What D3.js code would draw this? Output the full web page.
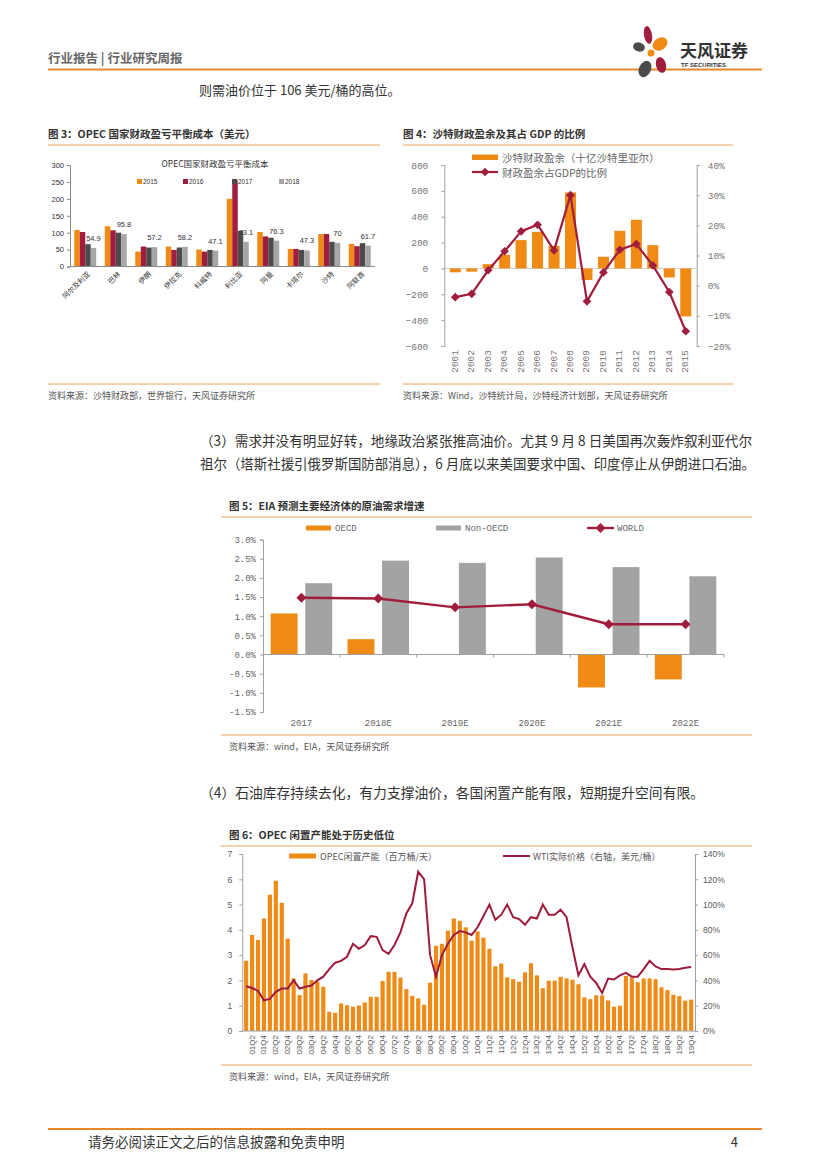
<!DOCTYPE html>
<html><head><meta charset="utf-8">
<script src="https://cdn.jsdelivr.net/npm/d3@7"></script>
<style>body{margin:0;background:#fff}svg{display:block}</style>
</head><body>
<svg id="page" width="827" height="1169"></svg>
<script>
// ---------- Chart 3 data ----------
const c3Cats = ["阿尔及利亚","巴林","伊朗","伊拉克","科威特","利比亚","阿曼","卡塔尔","沙特","阿联酋"];
const c3Years = ["2015","2016","2017","2018"];
const c3v2015 = [108,119,44,59,50,200,102,52,96,67];
const c3v2016 = [102,107,59,49,44,255,89,52,96,60];
const c3v2017 = [66,100,56,56,49,105,85,49,73,69];
const c3v2018 = [54.9,95.8,57.2,58.2,47.1,73.1,76.3,47.3,70,61.7];
const c3Ticks = [0,50,100,150,200,250,300];

// ---------- Chart 4 data ----------
const c4Years = ["2001","2002","2003","2004","2005","2006","2007","2008","2009","2010","2011","2012","2013","2014","2015"];
const c4Surplus = [-30,-25,33,105,219,283,175,588,-90,90,291,376,180,-70,-371];
const c4Ratio = [-3.8,-2.7,5.1,11.4,18.0,20.2,11.7,30.0,-5.2,4.4,11.9,13.8,6.7,-2.1,-15.1];
const c4LeftTicks = [-600,-400,-200,0,200,400,600,800];
const c4RightTicks = [-20,-10,0,10,20,30,40];

// ---------- Chart 5 data ----------
const c5Cats = ["2017","2018E","2019E","2020E","2021E","2022E"];
const c5OECD = [1.07,0.40,0,0,-0.86,-0.65];
const c5NonOECD = [1.86,2.45,2.39,2.53,2.28,2.04];
const c5World = [1.48,1.46,1.23,1.31,0.79,0.79];
const c5Ticks = [-1.5,-1.0,-0.5,0,0.5,1.0,1.5,2.0,2.5,3.0];

// ---------- Chart 6 data ----------
const c6Quarters = ["01Q1","01Q2","01Q3","01Q4","02Q1","02Q2","02Q3","02Q4","03Q1","03Q2","03Q3","03Q4","04Q1","04Q2","04Q3","04Q4","05Q1","05Q2","05Q3","05Q4","06Q1","06Q2","06Q3","06Q4","07Q1","07Q2","07Q3","07Q4","08Q1","08Q2","08Q3","08Q4","09Q1","09Q2","09Q3","09Q4","10Q1","10Q2","10Q3","10Q4","11Q1","11Q2","11Q3","11Q4","12Q1","12Q2","12Q3","12Q4","13Q1","13Q2","13Q3","13Q4","14Q1","14Q2","14Q3","14Q4","15Q1","15Q2","15Q3","15Q4","16Q1","16Q2","16Q3","16Q4","17Q1","17Q2","17Q3","17Q4","18Q1","18Q2","18Q3","18Q4","19Q1","19Q2","19Q3","19Q4"];
const c6Spare = [2.78,3.80,3.60,4.45, 5.39,5.94,5.07,3.65, 2.08,1.42,2.28,2.02, 1.95,1.75,0.76,0.72, 1.09,1.02,0.96,1.01, 1.13,1.35,1.35,1.98, 2.34,2.34,2.11,1.66, 1.39,1.29,1.04,1.91, 3.37,3.45,3.97,4.45, 4.36,4.10,3.57,3.94, 3.69,3.25,2.56,2.67, 2.12,2.05,1.95,2.32, 2.68,2.20,1.69,1.99, 1.99,2.14,2.08,2.03, 1.85,1.33,1.26,1.41, 1.41,1.21,0.96,1.00, 2.18,2.11,1.93,2.08, 2.08,2.05,1.73,1.62, 1.43,1.38,1.20,1.24];
const c6WTI = [35.4,34,31.7,24.3, 25.4,31,33.6,33.6, 40.2,33.6,35,36, 40,43,49,54, 55.5,58.7,69,65, 68,75,74.5,64, 61,68,78,93, 101,126,120,60, 43,60,69,76, 79,78,76,82, 91,100,88,92, 100,90,88.5,84, 90,89,100,92, 92,96,90,66, 44,53,43,38, 30,41.5,40.7,44, 46,43,43,49, 55.5,51,49,49, 48.6,49,50,50.7];
const c6LeftTicks = [0,1,2,3,4,5,6,7];
const c6RightTicks = [0,20,40,60,80,100,120,140];

// ---------- styles ----------
const CJK = "'Noto Sans CJK SC','Noto Sans',sans-serif";
const MONO = "'Liberation Mono','DejaVu Sans Mono',monospace";
const SANS = "'Liberation Sans','Noto Sans CJK SC',sans-serif";
const OR = "#EF8A14", RED = "#A11D3D", DG = "#4B4B4B", LG = "#A6A6A6";
const RULE = "#E9A05A", AX = "#A0A0A0", TXT = "#595959";

const svg = d3.select("#page");
svg.append("rect").attr("width",827).attr("height",1169).attr("fill","#fff");

function txt(g,x,y,s,o={}){
  const t = g.append("text").attr("x",x).attr("y",y).text(s)
    .attr("font-family",o.ff||CJK).attr("font-size",o.fs||12)
    .attr("fill",o.fill||"#333").attr("dominant-baseline",o.db||"central")
    .attr("text-anchor",o.anchor||"start");
  if(o.fw) t.attr("font-weight",o.fw);
  if(o.len) t.attr("textLength",o.len).attr("lengthAdjust","spacingAndGlyphs");
  return t;
}
function hline(x1,x2,y,c,w){svg.append("line").attr("x1",x1).attr("x2",x2).attr("y1",y).attr("y2",y).attr("stroke",c).attr("stroke-width",w);}

// ---------- page header ----------
txt(svg,48,57,"行业报告 | 行业研究周报",{fs:12.5,fw:700,fill:"#666"});
hline(48,762,69.5,"#E8872A",2);
const logo = svg.append("g");
[[648,35,4,9,-10,"#A11D3D"],[660,44,8,6,-35,OR],[639,47,6,4.5,15,"#4B4B4B"],[651,53,3.5,3.5,0,OR],[661,65,5,8,-15,"#A11D3D"],[645,69,6,8.5,25,"#4B4B4B"]].forEach(p=>{
  logo.append("ellipse").attr("cx",p[0]).attr("cy",p[1]).attr("rx",p[2]).attr("ry",p[3])
   .attr("transform",`rotate(${p[4]},${p[0]},${p[1]})`).attr("fill",p[5]);
});
txt(svg,680,49,"天风证券",{fs:17,fw:700,fill:"#333"});
txt(svg,681,65,"TF SECURITIES",{fs:6,fw:700,fill:"#333",ff:SANS});

txt(svg,199,89,"则需油价位于 106 美元/桶的高位。",{fs:13,fill:"#333"});

// ---------- figure titles & rules ----------
txt(svg,48,133,"图 3：OPEC 国家财政盈亏平衡成本（美元）",{fs:10.5,fw:700,fill:"#333"});
hline(48,380,145,RULE,1);
txt(svg,403,133,"图 4：沙特财政盈余及其占 GDP 的比例",{fs:10.5,fw:700,fill:"#333"});
hline(403,733,145,RULE,1);
hline(48,380,384,RULE,1);
hline(403,733,384,RULE,1);
txt(svg,48,395,"资料来源：沙特财政部，世界银行，天风证券研究所",{fs:9,fill:"#555"});
txt(svg,403,395,"资料来源：Wind，沙特统计局，沙特经济计划部，天风证券研究所",{fs:9,fill:"#555"});

txt(svg,200,440,"（3）需求并没有明显好转，地缘政治紧张推高油价。尤其 9 月 8 日美国再次轰炸叙利亚代尔",{fs:14,fill:"#333",len:552});
txt(svg,200,463,"祖尔（塔斯社援引俄罗斯国防部消息），6 月底以来美国要求中国、印度停止从伊朗进口石油。",{fs:14,fill:"#333",len:555});

txt(svg,229,505,"图 5：EIA 预测主要经济体的原油需求增速",{fs:10.5,fw:700,fill:"#333"});
hline(221,752,517,RULE,1);
hline(221,752,735,RULE,1);
txt(svg,229,746,"资料来源：wind，EIA，天风证券研究所",{fs:9,fill:"#555"});

txt(svg,200,792,"（4）石油库存持续去化，有力支撑油价，各国闲置产能有限，短期提升空间有限。",{fs:14,fill:"#333",len:504});

txt(svg,229,834,"图 6：OPEC 闲置产能处于历史低位",{fs:10.5,fw:700,fill:"#333"});
hline(221,752,846,RULE,1);
hline(221,752,1065,RULE,1);
txt(svg,229,1076,"资料来源：wind，EIA，天风证券研究所",{fs:9,fill:"#555"});

hline(48,762,1129,"#E8872A",2);
txt(svg,88,1141,"请务必阅读正文之后的信息披露和免责申明",{fs:13.5,fill:"#333"});
txt(svg,738,1141,"4",{fs:13,fill:"#333",anchor:"end"});

// ---------- Chart 3 ----------
(function(){
  const g = svg.append("g");
  const x = d3.scaleBand().domain(c3Cats).range([70,375]).paddingInner(0.28).paddingOuter(0.14);
  const xs = d3.scaleBand().domain(c3Years).range([0,x.bandwidth()]);
  const y = d3.scaleLinear().domain([0,300]).range([266.5,165]);
  const series = [c3v2015,c3v2016,c3v2017,c3v2018];
  const cols = [OR,RED,DG,LG];
  txt(g,215,163,"OPEC国家财政盈亏平衡成本",{fs:8.5,fill:"#333",anchor:"middle"});
  series.forEach((s,k)=>{
    g.selectAll(null).data(s).enter().append("rect")
      .attr("x",(d,i)=>x(c3Cats[i])+xs(c3Years[k])).attr("width",xs.bandwidth())
      .attr("y",d=>y(d)).attr("height",d=>y(0)-y(d)).attr("fill",cols[k]);
  });
  g.selectAll(null).data(c3v2018).enter().append("text")
    .attr("x",(d,i)=>x(c3Cats[i])+xs("2018")+xs.bandwidth()/2)
    .attr("y",d=>y(d)-7).attr("text-anchor","middle")
    .attr("font-family",SANS).attr("font-size",7.5).attr("fill","#333")
    .text(d=>d);
  const ya = g.append("g").attr("transform","translate(70,0)")
    .call(d3.axisLeft(y).tickValues(c3Ticks).tickSize(3).tickPadding(3));
  ya.select(".domain").attr("stroke","#888");
  ya.selectAll(".tick line").attr("stroke","#888");
  ya.selectAll("text").attr("font-family",SANS).attr("font-size",7.5).attr("fill","#333");
  g.append("line").attr("x1",70).attr("x2",375).attr("y1",y(0)).attr("y2",y(0)).attr("stroke","#888");
  g.selectAll(null).data(c3Cats).enter().append("text")
    .attr("transform",d=>`translate(${x(d)+x.bandwidth()/2+3},${y(0)+6}) rotate(-45)`)
    .attr("text-anchor","end").attr("dominant-baseline","central")
    .attr("font-family",CJK).attr("font-size",7).attr("fill","#333").text(d=>d);
  const lx = [137,183,232,279];
  c3Years.forEach((yy,k)=>{
    g.append("rect").attr("x",lx[k]).attr("y",179).attr("width",5).attr("height",5).attr("fill",cols[k]);
    txt(g,lx[k]+6,181.5,yy,{fs:6.5,ff:SANS,fill:"#333"});
  });
})();

// ---------- Chart 4 ----------
(function(){
  const g = svg.append("g");
  const x = d3.scaleBand().domain(c4Years).range([444.3,696.7]).padding(0.33);
  const yl = d3.scaleLinear().domain([-600,800]).range([346,165]);
  const yr = d3.scaleLinear().domain([-20,40]).range([346,165]);
  g.append("line").attr("x1",444.3).attr("x2",696.7).attr("y1",yl(0)).attr("y2",yl(0)).attr("stroke","#d0d0d0");
  g.selectAll(null).data(c4Surplus).enter().append("rect")
    .attr("x",(d,i)=>x(c4Years[i])).attr("width",x.bandwidth())
    .attr("y",d=>yl(Math.max(0,d))).attr("height",d=>Math.abs(yl(d)-yl(0))).attr("fill",OR);
  const line = d3.line().x((d,i)=>x(c4Years[i])+x.bandwidth()/2).y(d=>yr(d));
  g.append("path").datum(c4Ratio).attr("d",line).attr("fill","none").attr("stroke",RED).attr("stroke-width",2.2);
  g.selectAll(null).data(c4Ratio).enter().append("path")
    .attr("d",d3.symbol(d3.symbolDiamond2,48))
    .attr("transform",(d,i)=>`translate(${x(c4Years[i])+x.bandwidth()/2},${yr(d)})`).attr("fill",RED);
  const la = g.append("g").attr("transform","translate(444.3,0)")
    .call(d3.axisLeft(yl).tickValues(c4LeftTicks).tickSize(3).tickPadding(13));
  const ra = g.append("g").attr("transform","translate(696.7,0)")
    .call(d3.axisRight(yr).tickValues(c4RightTicks).tickSize(3).tickPadding(8).tickFormat(d=>d3.format("d")(d)+"%"));
  [la,ra].forEach(a=>{
    a.select(".domain").attr("stroke",AX);
    a.selectAll(".tick line").attr("stroke",AX);
    a.selectAll("text").attr("font-family",MONO).attr("font-size",9.5).attr("fill","#777");
  });
  g.selectAll(null).data(c4Years).enter().append("text")
    .attr("transform",d=>`translate(${x(d)+x.bandwidth()/2},${350}) rotate(-90)`)
    .attr("text-anchor","end").attr("dominant-baseline","central")
    .attr("font-family",MONO).attr("font-size",9.5).attr("fill","#777").text(d=>d);
  g.append("rect").attr("x",472).attr("y",154.5).attr("width",26).attr("height",5.5).attr("fill",OR);
  txt(g,502,157.5,"沙特财政盈余（十亿沙特里亚尔）",{fs:10.5,fill:"#666"});
  g.append("line").attr("x1",472).attr("x2",498).attr("y1",172).attr("y2",172).attr("stroke",RED).attr("stroke-width",2.2);
  g.append("path").attr("d",d3.symbol(d3.symbolDiamond2,48)).attr("transform","translate(485,172)").attr("fill",RED);
  txt(g,502,172.5,"财政盈余占GDP的比例",{fs:10.5,fill:"#666"});
})();

// ---------- Chart 5 ----------
(function(){
  const g = svg.append("g");
  const x = d3.scaleBand().domain(c5Cats).range([263,724]);
  const y = d3.scaleLinear().domain([-1.5,3.0]).range([712,539.5]);
  const bw = x.bandwidth();
  g.selectAll(null).data(c5OECD).enter().append("rect")
    .attr("x",(d,i)=>x(c5Cats[i])+bw*0.10).attr("width",bw*0.35)
    .attr("y",d=>y(Math.max(0,d))).attr("height",d=>Math.abs(y(d)-y(0))).attr("fill",OR);
  g.selectAll(null).data(c5NonOECD).enter().append("rect")
    .attr("x",(d,i)=>x(c5Cats[i])+bw*0.55).attr("width",bw*0.35)
    .attr("y",d=>y(Math.max(0,d))).attr("height",d=>Math.abs(y(d)-y(0))).attr("fill","#A3A3A3");
  const ya = g.append("g").attr("transform","translate(263,0)")
    .call(d3.axisLeft(y).tickValues(c5Ticks).tickSize(3).tickPadding(4)
      .tickFormat(d=>(d<0?"-":"")+Math.abs(d).toFixed(1)+"%"));
  ya.select(".domain").attr("stroke",AX);
  ya.selectAll(".tick line").attr("stroke",AX);
  ya.selectAll("text").attr("font-family",MONO).attr("font-size",9).attr("fill","#666");
  g.append("line").attr("x1",263).attr("x2",724).attr("y1",y(0)).attr("y2",y(0)).attr("stroke",AX);
  g.selectAll(null).data(c5Cats).enter().append("line")
    .attr("x1",d=>x(d)+x.step()).attr("x2",d=>x(d)+x.step()).attr("y1",y(0)).attr("y2",y(0)+3).attr("stroke",AX);
  const cx = (d,i)=>x(c5Cats[i])+bw/2;
  g.append("path").datum(c5World).attr("d",d3.line().x(cx).y(d=>y(d)))
    .attr("fill","none").attr("stroke",RED).attr("stroke-width",2.4);
  g.selectAll(null).data(c5World).enter().append("path")
    .attr("d",d3.symbol(d3.symbolDiamond2,64))
    .attr("transform",(d,i)=>`translate(${cx(d,i)},${y(d)})`).attr("fill",RED);
  g.selectAll(null).data(c5Cats).enter().append("text")
    .attr("x",d=>x(d)+bw/2).attr("y",724).attr("text-anchor","middle").attr("dominant-baseline","central")
    .attr("font-family",MONO).attr("font-size",9).attr("fill","#666").text(d=>d);
  g.append("rect").attr("x",306).attr("y",525.5).attr("width",25).attr("height",5).attr("fill",OR);
  txt(g,335,528.5,"OECD",{ff:MONO,fs:9,fill:"#666"});
  g.append("rect").attr("x",436).attr("y",525.5).attr("width",25).attr("height",5).attr("fill","#A3A3A3");
  txt(g,465,528.5,"Non-OECD",{ff:MONO,fs:9,fill:"#666"});
  g.append("line").attr("x1",587).attr("x2",614).attr("y1",528).attr("y2",528).attr("stroke",RED).attr("stroke-width",2.4);
  g.append("path").attr("d",d3.symbol(d3.symbolDiamond2,64)).attr("transform","translate(600.5,528)").attr("fill",RED);
  txt(g,617,528.5,"WORLD",{ff:MONO,fs:9,fill:"#666"});
})();

// ---------- Chart 6 ----------
(function(){
  const g = svg.append("g");
  const x = d3.scaleBand().domain(c6Quarters).range([242.3,695]).padding(0.3);
  const yl = d3.scaleLinear().domain([0,7]).range([1031,854]);
  const yr = d3.scaleLinear().domain([0,140]).range([1031,854]);
  g.selectAll(null).data(c6Spare).enter().append("rect")
    .attr("x",(d,i)=>x(c6Quarters[i])).attr("width",x.bandwidth())
    .attr("y",d=>yl(d)).attr("height",d=>yl(0)-yl(d)).attr("fill",OR);
  g.append("path").datum(c6WTI)
    .attr("d",d3.line().x((d,i)=>x(c6Quarters[i])+x.bandwidth()/2).y(d=>yr(d)))
    .attr("fill","none").attr("stroke","#9E1B3C").attr("stroke-width",2);
  const la = g.append("g").attr("transform","translate(242.3,0)")
    .call(d3.axisLeft(yl).tickValues(c6LeftTicks).tickSize(3).tickPadding(7).tickFormat(d3.format("d")));
  const ra = g.append("g").attr("transform","translate(695,0)")
    .call(d3.axisRight(yr).tickValues(c6RightTicks).tickSize(3).tickPadding(5).tickFormat(d=>d+"%"));
  [la,ra].forEach(a=>{
    a.select(".domain").attr("stroke",AX);
    a.selectAll(".tick line").attr("stroke",AX);
    a.selectAll("text").attr("font-family",SANS).attr("font-size",8.5).attr("fill",TXT);
  });
  g.append("line").attr("x1",242.3).attr("x2",695).attr("y1",yl(0)).attr("y2",yl(0)).attr("stroke",AX);
  const shown = c6Quarters.filter(q=>q.endsWith("Q2")||q.endsWith("Q4"));
  g.selectAll(null).data(shown).enter().append("text")
    .attr("transform",d=>`translate(${x(d)+x.bandwidth()/2},${1035}) rotate(-90)`)
    .attr("text-anchor","end").attr("dominant-baseline","central")
    .attr("font-family",SANS).attr("font-size",8).attr("fill",TXT).text(d=>d);
  g.append("rect").attr("x",289).attr("y",853.5).attr("width",27).attr("height",5).attr("fill",OR);
  txt(g,320,856.5,"OPEC闲置产能（百万桶/天）",{fs:9,fill:TXT});
  g.append("line").attr("x1",503).attr("x2",530).attr("y1",856).attr("y2",856).attr("stroke","#9E1B3C").attr("stroke-width",2);
  txt(g,533,856.5,"WTI实际价格（右轴，美元/桶）",{fs:9,fill:TXT});
})();
</script>
</body></html>
